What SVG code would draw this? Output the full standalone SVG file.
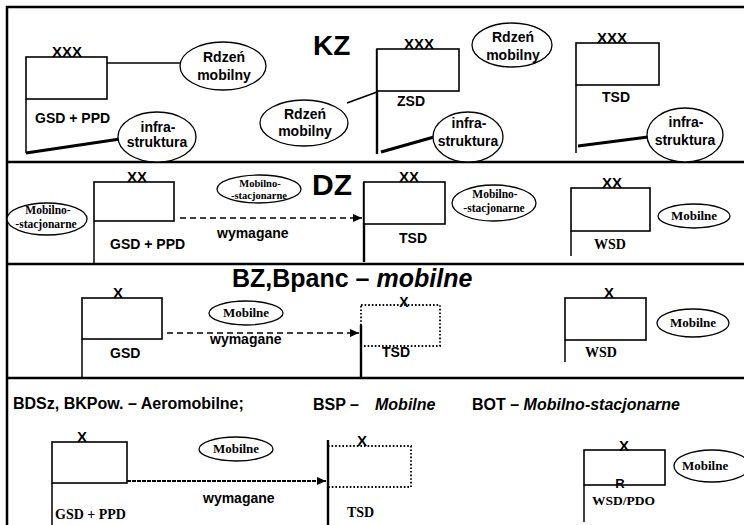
<svg xmlns="http://www.w3.org/2000/svg" width="744" height="525" viewBox="0 0 744 525">
<defs>
<style>
.frame{fill:none;stroke:#000;stroke-width:2.5}
.box{fill:#fff;stroke:#000;stroke-width:1.6}
.dot{fill:none;stroke:#000;stroke-width:1.8;stroke-dasharray:1.6,2}
.ell{fill:#fff;stroke:#000;stroke-width:1.3}
.ln{stroke:#000;stroke-width:1.5;fill:none}
.th{stroke:#000;stroke-width:3.2;fill:none}
.vt{stroke:#000;stroke-width:2.4;fill:none}
.dash{stroke:#000;stroke-width:1.4;fill:none;stroke-dasharray:6,4}
.dense{stroke:#000;stroke-width:2.2;fill:none;stroke-dasharray:4,1}
.s{font-family:"Liberation Sans",Arial,sans-serif;font-weight:bold;fill:#000}
.r{font-family:"Liberation Serif","Times New Roman",serif;font-weight:bold;fill:#000}
.i{font-style:italic}
.m{text-anchor:middle}
</style>
<marker id="ah" markerUnits="userSpaceOnUse" markerWidth="10" markerHeight="10" refX="9" refY="5" orient="auto">
<path d="M0,1 L9,5 L0,9 Z" fill="#000"/>
</marker>
</defs>
<rect width="744" height="525" fill="#fff"/>

<g id="frame">
<line class="frame" x1="7" y1="6" x2="7" y2="525"/>
<line class="frame" x1="6" y1="7" x2="744" y2="7"/>
<line class="frame" x1="6" y1="162" x2="744" y2="162"/>
<line class="frame" x1="6" y1="264" x2="744" y2="264"/>
<line class="frame" x1="6" y1="378" x2="744" y2="378"/>
</g>

<g id="connectors">
<line class="ln" x1="26" y1="99" x2="26" y2="153"/>
<line class="th" x1="26" y1="153" x2="120" y2="139"/>
<line class="ln" x1="107" y1="63" x2="180" y2="63"/>
<line class="ln" x1="347" y1="103" x2="377" y2="92"/>
<line class="vt" x1="377" y1="49" x2="377" y2="154"/>
<line class="th" x1="381" y1="152" x2="434" y2="137"/>
<line class="ln" x1="576" y1="85" x2="576" y2="153"/>
<line class="th" x1="578" y1="146" x2="648" y2="137"/>
<line class="ln" x1="94" y1="221" x2="94" y2="264"/>
<line class="dash" x1="180" y1="218" x2="362" y2="218" marker-end="url(#ah)"/>
<line class="vt" x1="364" y1="182" x2="364" y2="262"/>
<line class="ln" x1="571" y1="231" x2="571" y2="256"/>
<line class="ln" x1="82" y1="339" x2="82" y2="378"/>
<line class="dash" x1="167" y1="333" x2="359" y2="333" marker-end="url(#ah)"/>
<line class="vt" x1="361" y1="325" x2="361" y2="378"/>
<line class="ln" x1="565" y1="340" x2="565" y2="362"/>
<line class="ln" x1="52" y1="483" x2="52" y2="525"/>
<line class="dense" x1="127" y1="481" x2="326" y2="481" marker-end="url(#ah)"/>
<line class="vt" x1="328" y1="440" x2="328" y2="525"/>
<line class="ln" x1="584" y1="485" x2="584" y2="522"/>
</g>

<g id="kz-title"><text class="s" x="313" y="55" font-size="28">KZ</text></g>
<g id="kz-gsd">
<rect class="box" x="26" y="57" width="81" height="42"/>
<text class="s m" x="67" y="57" font-size="15">XXX</text>
<text class="s" x="35" y="123" font-size="14">GSD + PPD</text>
</g>
<g id="kz-rdzen1">
<ellipse class="ell" cx="223" cy="66" rx="43" ry="24"/>
<text class="s m" x="224" y="62" font-size="14">Rdzeń</text>
<text class="s m" x="224" y="80" font-size="14">mobilny</text>
</g>
<g id="kz-infra1">
<ellipse class="ell" cx="157" cy="137" rx="39" ry="25"/>
<text class="s m" x="158" y="132" font-size="14">infra-</text>
<text class="s m" x="157" y="147" font-size="14">struktura</text>
</g>
<g id="kz-rdzen2">
<ellipse class="ell" cx="304" cy="123" rx="44" ry="23"/>
<text class="s m" x="305" y="119" font-size="14">Rdzeń</text>
<text class="s m" x="305" y="136" font-size="14">mobilny</text>
</g>
<g id="kz-zsd">
<rect class="box" x="377" y="49" width="82" height="42"/>
<text class="s m" x="419" y="49" font-size="15">XXX</text>
<text class="s" x="397" y="106" font-size="14">ZSD</text>
</g>
<g id="kz-infra2">
<ellipse class="ell" cx="468" cy="137" rx="35" ry="25"/>
<text class="s m" x="469" y="128" font-size="14">infra-</text>
<text class="s m" x="468" y="146" font-size="14">struktura</text>
</g>
<g id="kz-rdzen3">
<ellipse class="ell" cx="512" cy="45" rx="40" ry="22"/>
<text class="s m" x="513" y="42" font-size="14">Rdzeń</text>
<text class="s m" x="513" y="60" font-size="14">mobilny</text>
</g>
<g id="kz-tsd">
<rect class="box" x="576" y="43" width="83" height="42"/>
<text class="s m" x="612" y="43" font-size="15">XXX</text>
<text class="s" x="602" y="102" font-size="14">TSD</text>
</g>
<g id="kz-infra3">
<ellipse class="ell" cx="685" cy="135" rx="38" ry="27"/>
<text class="s m" x="686" y="127" font-size="14">infra-</text>
<text class="s m" x="685" y="145" font-size="14">struktura</text>
</g>

<g id="dz-title"><text class="s" x="312" y="195" font-size="30">DZ</text></g>
<g id="dz-ms1">
<ellipse class="ell" cx="47" cy="219" rx="40" ry="16"/>
<text class="r m" x="48" y="214" font-size="11.5">Mobilno-</text>
<text class="r m" x="46" y="228" font-size="11.5">-stacjonarne</text>
</g>
<g id="dz-gsd">
<rect class="box" x="94" y="182" width="80" height="39"/>
<text class="s m" x="137" y="182" font-size="15">XX</text>
<text class="s" x="110" y="249" font-size="14">GSD + PPD</text>
</g>
<g id="dz-ms2">
<ellipse class="ell" cx="259" cy="189" rx="42" ry="14"/>
<text class="r m" x="260" y="187" font-size="10.5">Mobilno-</text>
<text class="r m" x="259" y="199" font-size="10.5">-stacjonarne</text>
</g>
<g id="dz-req"><text class="s" x="217" y="238" font-size="14">wymagane</text></g>
<g id="dz-tsd">
<rect class="box" x="364" y="182" width="81" height="42"/>
<text class="s m" x="409" y="182" font-size="15">XX</text>
<text class="s" x="399" y="243" font-size="14">TSD</text>
</g>
<g id="dz-ms3">
<ellipse class="ell" cx="494" cy="203" rx="42" ry="18"/>
<text class="r m" x="495" y="198" font-size="11.5">Mobilno-</text>
<text class="r m" x="494" y="212" font-size="11.5">-stacjonarne</text>
</g>
<g id="dz-wsd">
<rect class="box" x="571" y="188" width="79" height="43"/>
<text class="s m" x="612" y="188" font-size="15">XX</text>
<text class="r" x="594" y="249" font-size="14">WSD</text>
</g>
<g id="dz-mob">
<ellipse class="ell" cx="694" cy="216" rx="36" ry="12"/>
<text class="r m" x="694" y="220" font-size="13">Mobilne</text>
</g>

<g id="bz-title"><text class="s" x="232" y="287" font-size="25">BZ,Bpanc – <tspan class="i">mobilne</tspan></text></g>
<g id="bz-gsd">
<rect class="box" x="82" y="298" width="80" height="41"/>
<text class="s m" x="118" y="298" font-size="15">X</text>
<text class="s" x="110" y="358" font-size="14">GSD</text>
</g>
<g id="bz-mob1">
<ellipse class="ell" cx="246" cy="313" rx="37" ry="12"/>
<text class="r m" x="246" y="317" font-size="13">Mobilne</text>
</g>
<g id="bz-req"><text class="s" x="210" y="344" font-size="14">wymagane</text></g>
<g id="bz-tsd">
<rect class="dot" x="361" y="305" width="79" height="41"/>
<text class="s m" x="404" y="307" font-size="14">X</text>
<text class="s" x="382" y="357" font-size="14">TSD</text>
</g>
<g id="bz-wsd">
<rect class="box" x="565" y="298" width="81" height="42"/>
<text class="s m" x="609" y="298" font-size="15">X</text>
<text class="r" x="585" y="357" font-size="14">WSD</text>
</g>
<g id="bz-mob2">
<ellipse class="ell" cx="693" cy="323" rx="36" ry="14"/>
<text class="r m" x="693" y="327" font-size="13">Mobilne</text>
</g>

<g id="b4-titles">
<text class="s" x="13" y="409" font-size="16">BDSz, BKPow. – Aeromobilne;</text>
<text class="s" x="313" y="410" font-size="16">BSP – <tspan class="i" x="375">Mobilne</tspan></text>
<text class="s" x="472" y="410" font-size="16">BOT – <tspan class="i">Mobilno-stacjonarne</tspan></text>
</g>
<g id="b4-gsd">
<rect class="box" x="52" y="442" width="75" height="41"/>
<text class="s m" x="82" y="442" font-size="15">X</text>
<text class="r" x="55" y="519" font-size="14">GSD + PPD</text>
</g>
<g id="b4-mob1">
<ellipse class="ell" cx="236" cy="449" rx="37" ry="12"/>
<text class="r m" x="236" y="453" font-size="13">Mobilne</text>
</g>
<g id="b4-req"><text class="s" x="203" y="503" font-size="14">wymagane</text></g>
<g id="b4-tsd">
<rect class="dot" x="328" y="446" width="83" height="41"/>
<text class="s m" x="362" y="446" font-size="15">X</text>
<text class="r" x="347" y="517" font-size="14">TSD</text>
</g>
<g id="b4-wsd">
<rect class="box" x="584" y="450" width="81" height="35"/>
<text class="s m" x="624" y="451" font-size="15">X</text>
<text class="s m" x="620" y="488" font-size="13">R</text>
<text class="r" x="592" y="505" font-size="13.5">WSD/PDO</text>
</g>
<g id="b4-mob2">
<ellipse class="ell" cx="712" cy="466" rx="38" ry="16"/>
<text class="r" x="682" y="470" font-size="13">Mobilne</text>
</g>
</svg>
